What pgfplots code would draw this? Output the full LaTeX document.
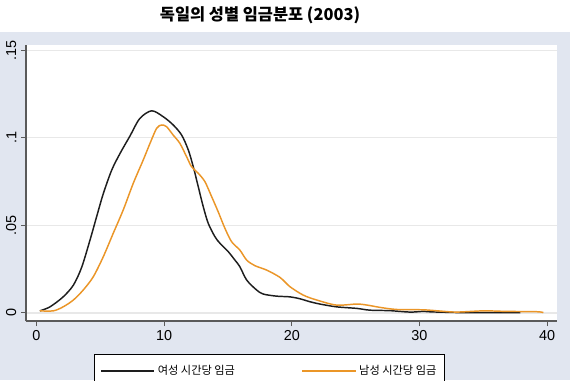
\documentclass[border=0pt]{standalone}
\usepackage{pgfplots}
\pgfplotsset{compat=1.18}
\usepackage{fontspec}
\setmainfont{Liberation Sans}
\newfontfamily\kr{Noto Sans CJK KR}
\definecolor{bgc}{RGB}{225,230,240}
\definecolor{gridc}{RGB}{232,232,232}
\definecolor{blk}{RGB}{30,30,30}
\definecolor{org}{RGB}{235,150,40}
\definecolor{axc}{RGB}{90,90,90}
\begin{document}
\begin{tikzpicture}
\fill[bgc] (0,0) rectangle (427.5pt,261pt);
\node[font=\kr\bfseries\fontsize{12.3}{14}\selectfont] at (195pt,273.75pt) {독일의 성별 임금분포 (2003)};
\begin{axis}[
  at={(19.5pt,44.25pt)}, anchor=south west,
  scale only axis, width=398.25pt, height=207pt,
  xmin=-0.81, xmax=40.77, ymin=-0.0047, ymax=0.153,
  axis background/.style={fill=white},
  axis x line=bottom, axis y line=left,
  axis line style={axc, line width=0.8pt, -},
  xtick={0,10,20,30,40},
  ytick={0,0.05,0.1,0.15},
  yticklabels={0,.05,.1,.15},
  tick align=outside, major tick length=3.75pt,
  tick style={axc, line width=0.7pt},
  /pgf/number format/assume math mode=true,
  ticklabel style={font=\fontsize{10.8}{12}\selectfont},
  yticklabel style={rotate=90, anchor=south},
  ymajorgrids, grid style={gridc, line width=1.1pt},
  legend style={at={(0.129,-0.1205)}, anchor=north west, draw=black, line width=0.6pt,
    fill=white, legend columns=2, font=\kr\fontsize{8.4}{10}\selectfont,
    /tikz/every even column/.append style={column sep=48pt},
    inner xsep=4pt, inner ysep=6pt},
  legend cell align=left,
  legend image code/.code={\draw[#1, line width=1.2pt] (0pt,0pt) -- (40pt,0pt);},
]
\addplot[blk, line width=1.1pt, smooth] coordinates {
(0.28,0.0011) (1.07,0.0034) (2.1,0.0091) (2.9,0.0158) (3.55,0.026) (4.2,0.0415)
(4.72,0.0549) (5.24,0.068) (5.9,0.0815) (6.55,0.091) (7.33,0.1010) (8.1,0.111)
(9.03,0.1154) (9.94,0.112) (10.72,0.1073) (11.38,0.1015) (11.9,0.093) (12.29,0.0834)
(12.68,0.072) (13.07,0.0606) (13.46,0.0511) (13.99,0.0434) (14.38,0.0397) (15.03,0.0349)
(15.55,0.0301) (15.94,0.0263) (16.47,0.0187) (17.25,0.013) (17.77,0.0107) (18.82,0.0095)
(19.86,0.0091) (20.64,0.008) (21.43,0.0063) (22.2,0.005) (23.5,0.0034) (25.1,0.0025)
(26.1,0.0015) (27.7,0.0012) (29.26,0.0004) (30.3,0.0008) (31,0.0005) (33.2,0.0001)
(35,0.0001) (37.9,0.0001)};
\addlegendentry{여성 시간당 임금}
\addplot[org, line width=1.1pt, smooth] coordinates {
(0.28,0.0011) (1.33,0.0011) (2.1,0.0034) (2.9,0.0073) (3.67,0.013) (4.46,0.0206)
(5.24,0.032) (6.02,0.0454) (6.8,0.0587) (7.59,0.074) (8.37,0.0873) (8.9,0.0968)
(9.42,0.1054) (9.81,0.1073) (10.2,0.1063) (10.72,0.1015) (11.24,0.0968) (11.77,0.0891)
(12.16,0.0834) (12.68,0.0797) (13.2,0.0749) (13.73,0.0663) (14.24,0.0577) (14.77,0.0482)
(15.29,0.0406) (15.94,0.0358) (16.47,0.0301) (17.12,0.0269) (18.03,0.0244) (19.08,0.0202)
(19.86,0.0149) (20.9,0.0101) (21.95,0.0073) (23.5,0.0044) (25.1,0.005) (25.9,0.0044)
(26.9,0.0031) (28.2,0.0019) (30.3,0.0017) (31.6,0.001) (32.9,0.0004) (35,0.0011)
(36.8,0.0008) (39.2,0.0006) (39.7,0.0001)};
\addlegendentry{남성 시간당 임금\hspace{30pt}}
\end{axis}
\pgfresetboundingbox
\path[use as bounding box] (0,0) rectangle (427.5pt,285pt);
\end{tikzpicture}
\end{document}
